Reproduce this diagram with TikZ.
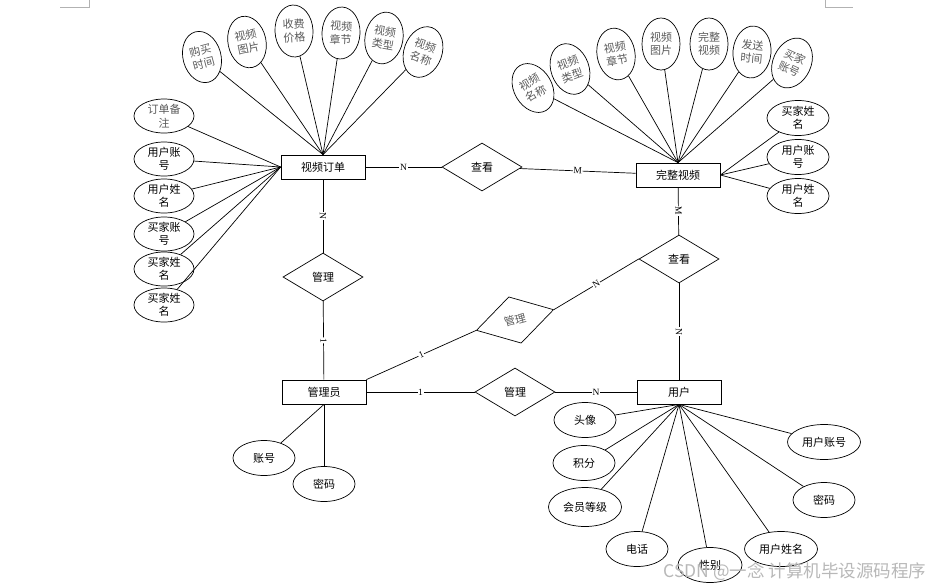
\documentclass[tikz,border=0pt]{standalone}
\usepackage{fontspec}
\setmainfont{Noto Sans CJK SC}
\newfontfamily\lblfont{Liberation Serif}
\usetikzlibrary{shapes.geometric}
\definecolor{gtx}{HTML}{5A5A5A}
\begin{document}
\begin{tikzpicture}[x=1pt,y=-1pt,
  every path/.style={line width=0.7pt},
  ent/.style={draw, line width=0.8pt, minimum width=84pt, minimum height=24pt, inner sep=0pt, font=\fontsize{11}{12}\selectfont},
  rel/.style={draw, diamond, shape aspect=1.67, minimum width=80pt, minimum height=48pt, inner sep=0pt, font=\fontsize{11}{12}\selectfont},
  attr/.style={draw, ellipse, inner sep=0pt, align=center, font=\fontsize{11}{13.5}\selectfont},
  tall/.style={attr, minimum width=38pt, minimum height=52pt, text=gtx},
  wide/.style={attr, minimum width=62pt, minimum height=35pt},
  wider/.style={attr, minimum width=73pt, minimum height=35pt},
  lbl/.style={font=\lblfont\fontsize{9.5}{9.5}\selectfont, fill=white, inner sep=0.6pt, sloped, midway}
]
\useasboundingbox (0,0) rectangle (934,587);
\fill[white] (0,0) rectangle (934,587);
% page corner marks
\draw[black!30, line width=0.6pt] (60,7) -- (89,7) -- (89,0);
\draw[black!30, line width=0.6pt] (825,0) -- (825,7) -- (853,7);

% entities
\node[ent] (o) at (323,167) {视频订单};
\node[ent] (f) at (678,175) {完整视频};
\node[ent] (a) at (324,392) {管理员};
\node[ent] (u) at (679,392) {用户};

% relationships
\node[rel] (q1) at (482,167) {查看};
\node[rel] (q2) at (679,259) {查看};
\node[rel] (m1) at (323,277) {管理};
\node[rel, rotate=15, text=gtx] (m2) at (515,320) {管理};
\node[rel] (m3) at (515,392) {管理};

% relationship lines
\draw (o) -- node[lbl]{N} (q1);
\draw (q1) -- node[lbl]{M} (f);
\draw (f) -- node[lbl]{M} (q2);
\draw (q2) -- node[lbl]{N} (u);
\draw (o) -- node[lbl]{N} (m1);
\draw (m1) -- node[lbl]{1} (a);
\draw (a.north east) -- node[lbl]{1} (m2.west);
\draw (m2.east) -- node[lbl]{N} (q2.west);
\draw (a) -- node[lbl]{1} (m3);
\draw (m3) -- node[lbl]{N} (u);

% top-left attributes of 视频订单
\node[tall, rotate=15] (t1) at (202,57) {购买\\时间};
\node[tall, rotate=12] (t2) at (247,42) {视频\\图片};
\node[tall, rotate=3] (t3) at (294,31) {收费\\价格};
\node[tall, rotate=-3] (t4) at (341,33) {视频\\章节};
\node[tall, rotate=-10] (t5) at (384,38) {视频\\类型};
\node[tall, rotate=-20] (t6) at (423,52) {视频\\名称};
\foreach \n in {t1,t2,t3,t4,t5,t6} \draw (\n) -- (o.north);

% left attributes of 视频订单
\node[attr, minimum width=60pt, minimum height=34pt, text=gtx] (l1) at (164,116) {订单备\\注};
\node[attr, minimum width=60pt, minimum height=34pt] (l2) at (164,159) {用户账\\号};
\node[attr, minimum width=60pt, minimum height=34pt] (l3) at (164,196) {用户姓\\名};
\node[attr, minimum width=60pt, minimum height=34pt] (l4) at (164,234) {买家账\\号};
\node[attr, minimum width=60pt, minimum height=34pt] (l5) at (164,269) {买家姓\\名};
\node[attr, minimum width=60pt, minimum height=34pt] (l6) at (164,305) {买家姓\\名};
\foreach \n in {l1,l2,l3,l4,l5,l6} \draw (\n) -- (o.west);

% top attributes of 完整视频
\node[tall, rotate=30] (r1) at (533,88) {视频\\名称};
\node[tall, rotate=20] (r2) at (570,69) {视频\\类型};
\node[tall, rotate=10] (r3) at (616,54) {视频\\章节};
\node[tall] (r4) at (661,44) {视频\\图片};
\node[tall] (r5) at (709,44) {完整\\视频};
\node[tall, rotate=-5] (r6) at (752,52) {发送\\时间};
\node[tall, rotate=-25] (r7) at (792,63) {买家\\账号};
\foreach \n in {r1,r2,r3,r4,r5,r6,r7} \draw (\n) -- (f.north);

% right attributes of 完整视频
\node[wide] (r8) at (798,118) {买家姓\\名};
\node[wide] (r9) at (798,157) {用户账\\号};
\node[wide] (r10) at (798,196) {用户姓\\名};
\foreach \n in {r8,r9,r10} \draw (\n) -- (f.east);

% attributes of 管理员
\node[wide] (b1) at (264,458) {账号};
\node[wide] (b2) at (324,484) {密码};
\draw (b1) -- (a.south);
\draw (b2) -- (a.south);

% attributes of 用户
\node[wide] (u1) at (585,420) {头像};
\node[wide] (u2) at (584,463) {积分};
\node[attr, minimum width=73pt, minimum height=39pt] (u3) at (585,507) {会员等级};
\node[wide] (u4) at (637,549) {电话};
\node[wide, minimum width=64pt] (u5) at (710,565) {性别};
\node[wider] (u6) at (781,549) {用户姓名};
\node[wide] (u7) at (824,500) {密码};
\node[wider] (u8) at (824,442) {用户账号};
\foreach \n in {u1,u2,u3,u4,u5,u6,u7,u8} \draw (\n) -- (u.south);

% watermark
\node[anchor=west, text=black!28, font=\fontsize{17.5}{17.5}\selectfont, inner sep=0pt] (wm) at (663,572) {CSDN @一念 计算机毕设源码程序};
\end{tikzpicture}
\end{document}
